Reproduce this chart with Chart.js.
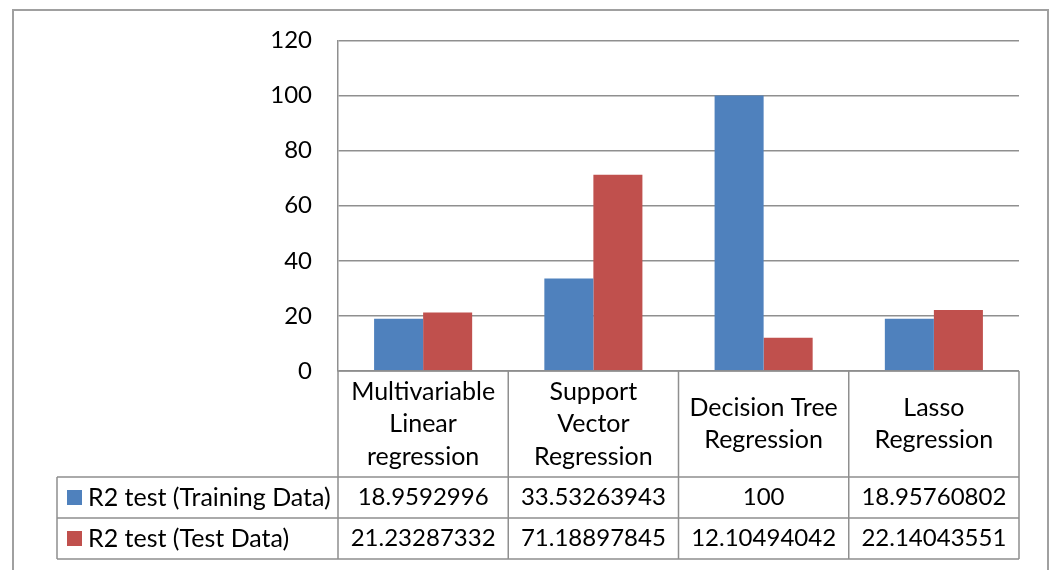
<!DOCTYPE html>
<html>
<head>
<meta charset="utf-8">
<script src="https://cdn.jsdelivr.net/npm/chart.js@4/dist/chart.umd.min.js"></script>
<style>
  html, body { margin: 0; padding: 0; background: #ffffff; }
  canvas { display: block; }
</style>
</head>
<body>
<canvas id="chart" width="1051" height="570"></canvas>
<script>
// Model names, wrapped into lines as shown in the table header
const categories = [
  ["Multivariable", "Linear", "regression"],
  ["Support", "Vector", "Regression"],
  ["Decision Tree", "Regression"],
  ["Lasso", "Regression"]
];
const seriesNames = ["R2 test (Training Data)", "R2 test (Test Data)"];
const trainingValues = [18.9592996, 33.53263943, 100, 18.95760802];
const testValues = [21.23287332, 71.18897845, 12.10494042, 22.14043551];
const yTicks = [0, 20, 40, 60, 80, 100, 120];
const seriesColors = ["#4F81BD", "#C0504D"];

const FONT_FAMILY = "Lato, 'Open Sans', sans-serif";
const TEXT_SIZE = 25;   // words
const NUMBER_SIZE = 24; // figures (tick labels and table values)
const LINE_COLOR = "#8f8f8f";

// Frame around the whole chart object
const outerFrame = {
  id: 'outerFrame',
  beforeDraw(chart) {
    const ctx = chart.ctx;
    ctx.save();
    ctx.strokeStyle = "#a0a0a0";
    ctx.lineWidth = 2;
    ctx.beginPath();
    ctx.moveTo(13, 570);
    ctx.lineTo(13, 10);
    ctx.lineTo(1048, 10);
    ctx.lineTo(1048, 570);
    ctx.stroke();
    ctx.restore();
  }
};

// Data table under the plot: category header row, then one row per series
const dataTable = {
  id: 'dataTable',
  afterDraw(chart) {
    const ctx = chart.ctx;
    const xs = chart.scales.x;
    const area = chart.chartArea;
    const half = (xs.getPixelForValue(1) - xs.getPixelForValue(0)) / 2;
    const headerTop = area.bottom;
    const headerBottom = headerTop + 106;
    const rowH = 41;
    const legendLeft = 57;
    const lineH = 32.5;
    const series = [trainingValues, testValues];

    ctx.save();
    ctx.strokeStyle = LINE_COLOR;
    ctx.lineWidth = 1.5;
    ctx.beginPath();
    // header row top edge
    ctx.moveTo(area.left, headerTop);
    ctx.lineTo(area.right, headerTop);
    // row separators across the full table
    for (let r = 0; r <= series.length; r++) {
      const y = headerBottom + r * rowH;
      ctx.moveTo(legendLeft, y);
      ctx.lineTo(area.right, y);
    }
    // legend column left edge
    ctx.moveTo(legendLeft, headerBottom);
    ctx.lineTo(legendLeft, headerBottom + series.length * rowH);
    // column separators
    for (let i = 0; i <= categories.length; i++) {
      const x = i < categories.length ? xs.getPixelForValue(i) - half : xs.getPixelForValue(i - 1) + half;
      ctx.moveTo(x, headerTop);
      ctx.lineTo(x, headerBottom + series.length * rowH);
    }
    ctx.stroke();

    ctx.fillStyle = "#000000";
    ctx.textAlign = "center";
    ctx.textBaseline = "middle";
    const textFont = TEXT_SIZE + "px " + FONT_FAMILY;
    const numberFont = NUMBER_SIZE + "px " + FONT_FAMILY;
    ctx.font = textFont;
    const headerMid = (headerTop + headerBottom) / 2;
    categories.forEach((lines, i) => {
      const cx = xs.getPixelForValue(i);
      const y0 = headerMid - (lines.length - 1) * lineH / 2;
      lines.forEach((t, k) => ctx.fillText(t, cx, y0 + k * lineH));
    });

    series.forEach((vals, r) => {
      const cy = headerBottom + r * rowH + rowH / 2;
      ctx.font = numberFont;
      ctx.textAlign = "center";
      vals.forEach((v, i) => ctx.fillText(String(v), xs.getPixelForValue(i), cy));
      // legend key and series name
      ctx.fillStyle = seriesColors[r];
      ctx.fillRect(legendLeft + 10, cy - 7.5, 15, 15);
      ctx.fillStyle = "#000000";
      ctx.font = textFont;
      ctx.textAlign = "left";
      ctx.fillText(seriesNames[r], legendLeft + 31, cy);
    });
    ctx.restore();
  }
};

new Chart(document.getElementById('chart'), {
  type: 'bar',
  data: {
    labels: categories,
    datasets: [
      { label: seriesNames[0], data: trainingValues, backgroundColor: seriesColors[0] },
      { label: seriesNames[1], data: testValues, backgroundColor: seriesColors[1] }
    ]
  },
  options: {
    responsive: false,
    animation: false,
    devicePixelRatio: 1,
    layout: { padding: { left: 0, top: 40, right: 32, bottom: 199 } },
    datasets: { bar: { categoryPercentage: 0.576, barPercentage: 1.0 } },
    plugins: { legend: { display: false }, tooltip: { enabled: false } },
    scales: {
      x: { display: false },
      y: {
        min: yTicks[0],
        max: yTicks[yTicks.length - 1],
        afterFit(scale) { scale.width = 338; },
        afterBuildTicks(scale) { scale.ticks = yTicks.map(v => ({ value: v })); },
        ticks: {
          padding: 26,
          color: "#000000",
          font: { family: FONT_FAMILY, size: NUMBER_SIZE }
        },
        grid: { color: LINE_COLOR, lineWidth: 1.5, drawTicks: false },
        border: { display: true, color: LINE_COLOR, width: 1.5 }
      }
    }
  },
  plugins: [outerFrame, dataTable]
});
</script>
</body>
</html>
